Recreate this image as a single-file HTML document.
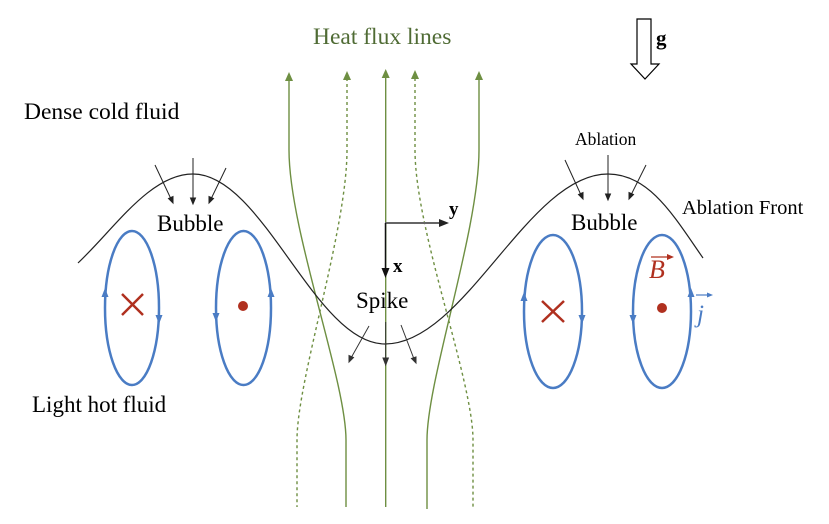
<!DOCTYPE html>
<html><head><meta charset="utf-8"><style>
html,body{margin:0;padding:0;background:#fff;}
svg{display:block;}
text{font-family:"Liberation Serif",serif;}
</style></head><body>
<svg width="829" height="524" viewBox="0 0 829 524" xmlns="http://www.w3.org/2000/svg">
<!-- g arrow -->
<path d="M637,19 L651,19 L651,64 L659,64 L645,79 L631,64 L637,64 Z" fill="#fff" stroke="#000" stroke-width="1.2"/>
<text x="656" y="45" font-size="21" font-weight="bold">g</text>

<!-- Heat flux text -->
<text x="313" y="44" font-size="23.5" fill="#4f6b34">Heat flux lines</text>

<!-- green lines -->
<g fill="none" stroke="#6e8f42" stroke-width="1.4">
<path d="M289,80 L289,150 C289,230 346,380 346,440 L346,507"/>
<path d="M479,80 L479,150 C479,230 427,380 427,440 L427,509"/>
<path d="M385.7,76 L385.7,507"/>
<path d="M347,78 L347,150 C347,230 297,380 297,440 L297,507" stroke-dasharray="3,3"/>
<path d="M415,78 L415,150 C415,230 473,380 473,440 L473,507" stroke-dasharray="3,3"/>
</g>
<g fill="#6e8f42">
<polygon points="289,72 285,81 293,81"/>
<polygon points="347,71 343,80 351,80"/>
<polygon points="385.7,69 381.7,78 389.7,78"/>
<polygon points="415,70 411,79 419,79"/>
<polygon points="479,71 475,80 483,80"/>
</g>

<!-- ablation front -->
<path d="M78,263 C115,228 150,174 193,174 C263,174 315,344 385,344 C465,344 528,174 608,174 C650,174 675,218 703,258" fill="none" stroke="#222" stroke-width="1.2"/>

<!-- ablation arrows -->
<g stroke="#222" stroke-width="1" fill="#222">
<line x1="193" y1="158" x2="193" y2="199"/>
<polygon points="193,204 190.5,198 195.5,198"/>
<line x1="155" y1="165" x2="171" y2="199"/>
<polygon points="173,203 168.5,198.5 173,196.5"/>
<line x1="226" y1="168" x2="211" y2="199"/>
<polygon points="209,203 209,196.5 213.5,198.5"/>
<line x1="608" y1="155" x2="608" y2="195"/>
<polygon points="608,200 605.5,194 610.5,194"/>
<line x1="565" y1="160" x2="581" y2="195"/>
<polygon points="583,199 578.5,194.5 583,192.5"/>
<line x1="646" y1="165" x2="631" y2="195"/>
<polygon points="629,199 629,192.5 633.5,194.5"/>
</g>

<!-- spike arrows -->
<g stroke="#333" stroke-width="1" fill="#333">
<line x1="369" y1="326" x2="351" y2="358"/>
<polygon points="349,362 349,355.5 353.5,357.5"/>
<line x1="401" y1="325" x2="414" y2="359"/>
<polygon points="416,363 411.5,358.5 416,357"/>
<line x1="385.7" y1="322" x2="385.7" y2="359"/>
<polygon points="385.7,365 383,358 388.4,358"/>
</g>

<!-- axes -->
<line x1="385" y1="223" x2="441" y2="223" stroke="#666" stroke-width="2"/>
<polygon points="449,223 439,219 439,227" fill="#222"/>
<line x1="385.5" y1="223" x2="385.5" y2="270" stroke="#111" stroke-width="1.5"/>
<polygon points="385.5,278 381.5,268 389.5,268" fill="#111"/>
<text x="393" y="272" font-size="19" font-weight="bold">x</text>
<text x="449" y="215" font-size="19" font-weight="bold">y</text>

<!-- labels -->
<text x="24" y="119" font-size="23.5">Dense cold fluid</text>
<text x="32" y="412" font-size="23">Light hot fluid</text>
<text x="157" y="231" font-size="23">Bubble</text>
<text x="571" y="230" font-size="23">Bubble</text>
<text x="356" y="308" font-size="23">Spike</text>
<text x="575" y="145" font-size="17.5">Ablation</text>
<text x="682" y="214" font-size="20.5">Ablation Front</text>

<!-- loops -->
<g fill="none" stroke="#4a7cc4" stroke-width="2.5">
<ellipse cx="132" cy="308" rx="27" ry="77"/>
<ellipse cx="243.5" cy="308" rx="27.5" ry="77"/>
<ellipse cx="553" cy="311.5" rx="29" ry="76.5"/>
<ellipse cx="662" cy="311.5" rx="29" ry="76.5"/>
</g>
<g fill="#4a7cc4">
<polygon points="105,288 101.5,297 108.5,297"/>
<polygon points="159,324 155.5,315 162.5,315"/>
<polygon points="216,322 212.5,313 219.5,313"/>
<polygon points="271,288 267.5,297 274.5,297"/>
<polygon points="524,292 520.5,301 527.5,301"/>
<polygon points="582,324 578.5,315 585.5,315"/>
<polygon points="633,324 629.5,315 636.5,315"/>
<polygon points="691,288 687.5,297 694.5,297"/>
</g>

<!-- crosses and dots -->
<g stroke="#b0301f" stroke-width="2.5">
<line x1="122" y1="294" x2="143" y2="315"/>
<line x1="143" y1="294" x2="122" y2="315"/>
<line x1="542" y1="301" x2="564" y2="322"/>
<line x1="564" y1="301" x2="542" y2="322"/>
</g>
<circle cx="243" cy="306" r="5" fill="#b0301f"/>
<circle cx="662" cy="308" r="5" fill="#b0301f"/>

<!-- B vector -->
<text x="649" y="278" font-size="26" font-style="italic" fill="#b0301f">B</text>
<line x1="651" y1="257" x2="670" y2="257" stroke="#b0301f" stroke-width="1.3"/>
<polygon points="674,257 667,254 667,260" fill="#b0301f"/>
<!-- j vector -->
<text x="697" y="322" font-size="25" font-style="italic" fill="#4a7cc4">j</text>
<line x1="696" y1="295" x2="710" y2="295" stroke="#4a7cc4" stroke-width="1.2"/>
<polygon points="713,295 707,292.5 707,297.5" fill="#4a7cc4"/>
</svg>
</body></html>
